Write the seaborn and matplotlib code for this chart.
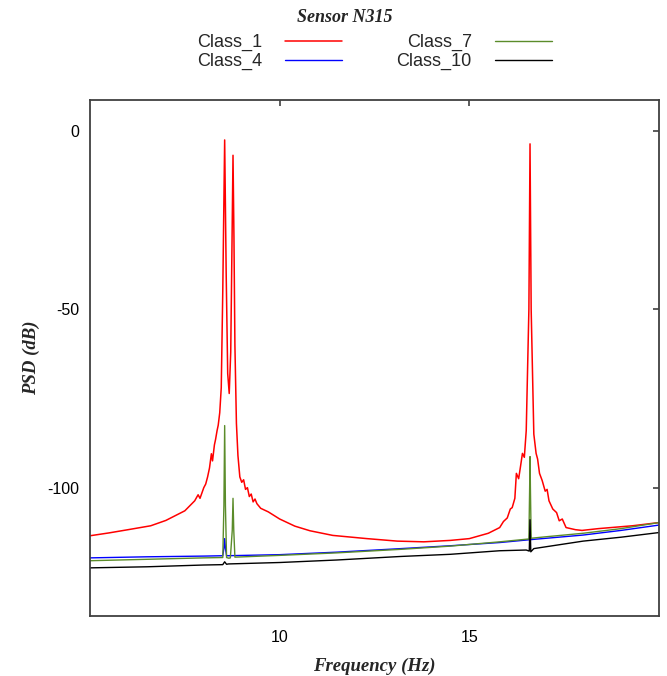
import numpy as np
import pandas as pd
import matplotlib
matplotlib.use("Agg")
import matplotlib.pyplot as plt
import seaborn as sns

# ---------------- data ----------------
class1_freq = [5.0, 5.5, 6.0, 6.6, 7.0, 7.5, 7.76, 7.85, 7.9, 8.0, 8.05, 8.1, 8.15, 8.2,
               8.23, 8.28, 8.31, 8.35, 8.38, 8.42, 8.46, 8.5, 8.55, 8.59, 8.63, 8.67,
               8.71, 8.745, 8.77, 8.795, 8.82, 8.86, 8.9, 8.95, 9.0, 9.05, 9.1, 9.15,
               9.2, 9.25, 9.3, 9.35, 9.4, 9.5, 9.7, 10.0, 10.4, 10.8, 11.4, 12.3, 13.1,
               13.8, 14.5, 15.0, 15.5, 15.8, 15.9, 16.0, 16.08, 16.13, 16.2, 16.24,
               16.3, 16.35, 16.4, 16.45, 16.5, 16.57, 16.6, 16.63, 16.7, 16.76, 16.8,
               16.85, 16.92, 17.0, 17.05, 17.1, 17.2, 17.3, 17.37, 17.45, 17.55, 17.8,
               17.97, 18.4, 19.3, 20.0]
class1_psd = [-113.5, -112.7, -111.8, -110.7, -109.2, -106.5, -103.7, -102.0, -103.0,
              -100.0, -99.0, -97.0, -94.5, -90.5, -92.5, -88.0, -86.5, -84.0, -82.5,
              -79.0, -72.0, -45.0, -2.5, -40.0, -68.0, -73.6, -62.0, -30.0, -6.8, -30.0,
              -60.0, -82.0, -91.0, -97.0, -98.5, -97.8, -100.5, -100.0, -102.5, -101.8,
              -104.0, -103.2, -104.5, -105.8, -106.8, -108.8, -110.8, -112.1, -113.4,
              -114.3, -115.0, -115.2, -114.8, -114.3, -112.8, -111.2, -109.5, -108.5,
              -106.0, -105.6, -103.0, -96.0, -97.5, -94.0, -90.4, -91.5, -84.0, -50.0,
              -3.6, -50.0, -85.0, -90.4, -92.0, -96.0, -98.0, -101.0, -100.5, -103.7,
              -106.0, -107.0, -109.3, -108.8, -111.2, -111.8, -112.0, -111.5, -110.7,
              -109.8]

class4_freq = [5.0, 6.5, 8.0, 8.5, 8.53, 8.55, 8.57, 8.6, 10.0, 11.5, 13.2, 14.5, 15.8,
               16.6, 18.0, 19.0, 20.0]
class4_psd = [-119.7, -119.4, -119.2, -119.1, -117.0, -114.3, -117.0, -119.1, -118.8,
              -118.1, -117.1, -116.3, -115.4, -114.6, -113.3, -112.0, -110.5]

class7_freq = [5.0, 6.5, 8.0, 8.5, 8.53, 8.55, 8.57, 8.6, 8.66, 8.7, 8.75, 8.77, 8.79,
               8.82, 10.0, 11.5, 13.2, 14.5, 15.8, 16.57, 16.59, 16.6, 16.61, 16.63,
               17.0, 18.0, 19.0, 20.0]
class7_psd = [-120.5, -120.1, -119.7, -119.6, -105.0, -82.6, -105.0, -119.6, -119.8,
              -119.7, -112.0, -103.0, -112.0, -119.5, -119.0, -118.3, -117.3, -116.4,
              -115.2, -114.4, -100.0, -91.3, -100.0, -114.2, -113.8, -112.8, -111.5,
              -109.8]

class10_freq = [5.0, 6.5, 8.0, 8.5, 8.55, 8.6, 8.65, 10.0, 11.5, 13.2, 14.5, 15.8, 16.5,
                16.58, 16.6, 16.62, 16.7, 18.0, 19.0, 20.0]
class10_psd = [-122.5, -122.2, -121.7, -121.6, -120.8, -121.5, -121.4, -121.0, -120.3,
               -119.3, -118.7, -117.7, -117.5, -117.8, -109.0, -118.0, -117.1, -115.0,
               -113.9, -112.6]

series_labels = ["Class_1", "Class_4", "Class_7", "Class_10"]
series_colors = ["#FF0000", "#0000FF", "#5B8C2A", "#000000"]
x_ticks = [10, 15]
y_ticks = [0, -50, -100]

# ---------------- figure ----------------
sns.set_theme(style="white")
plt.rcParams["font.family"] = ["Liberation Sans", "DejaVu Sans"]
plt.rcParams["axes.unicode_minus"] = False

fig = plt.figure(figsize=(6.67, 6.76), dpi=100)
ax = fig.add_axes([90 / 667, 1 - 616 / 676, (659 - 90) / 667, (616 - 100) / 676])

data = [(class1_freq, class1_psd), (class4_freq, class4_psd),
        (class7_freq, class7_psd), (class10_freq, class10_psd)]
for (f, p), lab, col in zip(data, series_labels, series_colors):
    df = pd.DataFrame({"Frequency": f, "PSD": p})
    sns.lineplot(data=df, x="Frequency", y="PSD", ax=ax, color=col,
                 lw=1.1 if lab == "Class_1" else 1.0,
                 estimator=None, sort=False, label=lab)

ax.set_xlim(5, 20)
ax.set_ylim(-136, 8.7)
ax.set_xticks(x_ticks)
ax.set_yticks(y_ticks)
ax.tick_params(direction="in", length=4, width=1.2, color="#404040",
               labelsize=11.5, labelcolor="black", top=True, right=True,
               pad=8)
ax.tick_params(axis="x", pad=10)
for s in ax.spines.values():
    s.set_color("#404040")
    s.set_linewidth(1.3)

serif = ["Liberation Serif", "DejaVu Serif"]
ax.set_xlabel("Frequency (Hz)", family=serif, fontweight="bold", style="italic",
              fontsize=13.5, labelpad=9)
ax.set_ylabel("PSD (dB)", family=serif, fontweight="bold", style="italic",
              fontsize=13.5, labelpad=5)

h, l = ax.get_legend_handles_labels()
ax.get_legend().remove()
fig.legend(h, l, ncol=2, loc="center", bbox_to_anchor=(374.5 / 667, 1 - 52 / 676),
           frameon=False, fontsize=13, markerfirst=False, handlelength=3.15,
           handletextpad=1.3, columnspacing=3.0, labelspacing=0.1,
           borderpad=0.0)

fig.text(345 / 667, 1 - 17 / 676, "Sensor N315", family=serif, fontweight="bold",
         style="italic", fontsize=13, ha="center", va="center")

fig.savefig("out.png", dpi=100)
